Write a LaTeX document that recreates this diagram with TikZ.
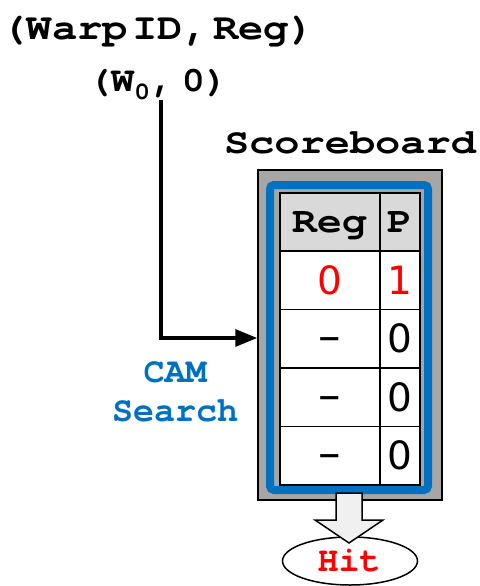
\documentclass[tikz,border=0pt]{standalone}
\usepackage{fontspec}
\setmainfont{Liberation Mono}
\newfontfamily\cour{TeX Gyre Cursor}
\newfontfamily\digitfont{DejaVu Sans}
\usetikzlibrary{arrows.meta,shapes.geometric}
\definecolor{boardgray}{HTML}{A6A6A6}
\definecolor{headgray}{HTML}{D9D9D9}
\definecolor{camblue}{HTML}{0070C0}
\definecolor{hitred}{HTML}{FF0000}
\definecolor{arrowfill}{HTML}{F0F0F0}
\tikzset{
  lbl/.style={font=\cour\fontsize{35}{35}\selectfont\bfseries, inner sep=0pt, anchor=base},
  cell/.style={draw=black, line width=1.5pt, minimum width=#1, minimum height=58.4pt, inner sep=0pt, anchor=north west},
  digit/.style={font=\digitfont\fontsize{39}{39}\selectfont, inner sep=0pt, anchor=base},
}
\begin{document}
\begin{tikzpicture}[x=1pt,y=-1pt]
\useasboundingbox (0,0) rectangle (479,586);

% titles
\node[lbl, font=\cour\fontsize{37}{37}\selectfont\bfseries] (title) at (158,40) {\scalebox{1.14}[1]{\spaceskip=4pt (Warp ID, Reg)}};
\node[lbl] (req) at (158,92) {\scalebox{1.1}[1]{\spaceskip=7pt (W\textsubscript{0}, 0)}};
\node[lbl] (sbname) at (350,153) {\scalebox{1.2}[1]{Scoreboard}};

% scoreboard frame
\node[draw=black, line width=1.5pt, fill=boardgray, minimum width=184pt, minimum height=330pt, inner sep=0pt] (board) at (350,335) {};
\draw[camblue, line width=8pt, rounded corners=4pt] (270,185) rectangle (428,490);

% table
\foreach \r/\y in {0/192, 1/250.4, 2/308.8, 3/367.2, 4/425.6} {
  \ifnum\r=0
    \node[cell=100pt, fill=headgray] (reg\r) at (279,\y) {};
    \node[cell=40pt, fill=headgray] (p\r) at (379,\y) {};
  \else
    \node[cell=100pt, fill=white] (reg\r) at (279,\y) {};
    \node[cell=40pt, fill=white] (p\r) at (379,\y) {};
  \fi
}
\node[lbl, font=\cour\fontsize{36}{36}\selectfont\bfseries] at ([yshift=-11pt]reg0.center) {\scalebox{1.15}[1]{Reg}};
\node[lbl, font=\cour\fontsize{36}{36}\selectfont\bfseries] at ([yshift=-11pt]p0.center) {\scalebox{1.15}[1]{P}};
\node[digit, text=hitred] at ([yshift=-14pt]reg1.center) {0};
\node[digit, text=hitred] at ([yshift=-14pt]p1.center) {1};
\foreach \r in {2,3,4} {
  \node[digit, font=\digitfont\fontsize{45}{45}\selectfont] at ([yshift=-13pt]reg\r.center) {–};
  \node[digit] at ([yshift=-14pt]p\r.center) {0};
}

% CAM search request
\coordinate (tap) at (161,100);
\draw[line width=3.2pt, -{Triangle[length=22pt,width=17pt]}] (tap) |- ([yshift=-3pt]board.west);
\node[lbl, text=camblue] (cam) at (175,382) {CAM};
\node[lbl, text=camblue] (search) at (175,421) {Search};

% hit output
\node[draw=black, line width=1.5pt, fill=white, ellipse, minimum width=135pt, minimum height=48pt, inner sep=0pt] (hit) at (350,561) {};
\node[lbl, text=hitred] at (349,571) {Hit};
\draw[line width=1.5pt, fill=arrowfill, line join=miter]
  (336,493) -- (362,493) -- (362,520) -- (383,520) -- (349,543) -- (315,520) -- (336,520) -- cycle;
\end{tikzpicture}
\end{document}
